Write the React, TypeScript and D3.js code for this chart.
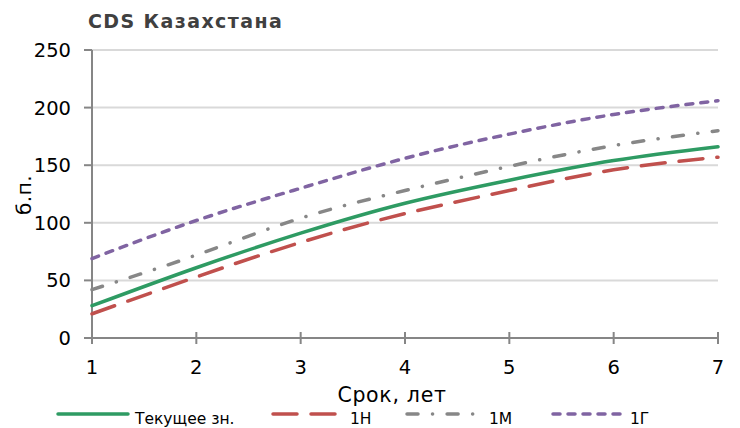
import React from "react";
import * as d3 from "d3";

const terms = [1, 2, 3, 4, 5, 6, 7];
const current = [28, 61, 91, 117, 137, 154, 166];
const h1 = [21, 53, 83, 108, 128, 146, 157];
const m1 = [42, 72, 104, 128, 149, 167, 180];
const y1 = [69, 102, 130, 156, 177, 194, 206];
const yTicks = [0, 50, 100, 150, 200, 250];
const xTicks = [1, 2, 3, 4, 5, 6, 7];

const seriesNames = ["Текущее зн.", "1Н", "1М", "1Г"];
const seriesColors = ["#2e9b63", "#c0504d", "#878787", "#8064a2"];
const seriesDash = ["none", "24,14", "11,14.5,0.1,14.5", "7,8"];
const seriesData = [current, h1, m1, y1];

const FONT = "'DejaVu Sans', Verdana, sans-serif";

export default function App() {
  const W = 740, H = 428;
  const x = d3.scaleLinear().domain([1, 7]).range([92, 718]);
  const y = d3.scaleLinear().domain([0, 250]).range([338, 50]);
  const line = d3
    .line<number>()
    .x((_, i) => x(terms[i]))
    .y((d) => y(d))
    .curve(d3.curveNatural);

  const legendX = [58, 273, 407, 553];
  const legendTextX = [135, 350, 489, 630];

  return (
    <svg width={W} height={H} style={{ position: "absolute", left: 0, top: 0, background: "#fff" }}>
      <text x={88} y={28} fontFamily={FONT} fontWeight="bold" fontSize={19} letterSpacing={1.4} fill="#404040">
        CDS Казахстана
      </text>
      {yTicks.map((t) =>
        t > 0 ? (
          <line key={"g" + t} x1={x(1)} x2={x(7)} y1={y(t)} y2={y(t)} stroke="#d9d9d9" strokeWidth={2} />
        ) : null
      )}
      {yTicks.map((t) => (
        <g key={"yt" + t}>
          <line x1={84} x2={x(1)} y1={y(t)} y2={y(t)} stroke="#868686" strokeWidth={2} />
          <text x={71} y={y(t) + 7} textAnchor="end" fontFamily={FONT} fontSize={19.5} fill="#000">
            {t}
          </text>
        </g>
      ))}
      <line x1={x(1)} x2={x(1)} y1={y(250)} y2={y(0) + 6} stroke="#868686" strokeWidth={2} />
      <line x1={x(1)} x2={x(7)} y1={y(0)} y2={y(0)} stroke="#868686" strokeWidth={2} />
      {xTicks.map((t) => (
        <g key={"xt" + t}>
          <line x1={x(t)} x2={x(t)} y1={y(0) - 6} y2={y(0) + 6} stroke="#868686" strokeWidth={2} />
          <text x={x(t)} y={374} textAnchor="middle" fontFamily={FONT} fontSize={19.5} fill="#000">
            {t}
          </text>
        </g>
      ))}
      <text x={392} y={402} textAnchor="middle" fontFamily={FONT} fontSize={20.5} letterSpacing={0.7} fill="#000">
        Срок, лет
      </text>
      <text
        transform={`translate(31,${195}) rotate(-90)`}
        textAnchor="middle"
        fontFamily={FONT}
        fontSize={20}
        letterSpacing={0.5}
        fill="#000"
      >
        б.п.
      </text>
      {seriesData.map((s, i) => (
        <path
          key={"s" + i}
          d={line(s) || ""}
          fill="none"
          stroke={seriesColors[i]}
          strokeWidth={3.5}
          strokeDasharray={seriesDash[i]}
          strokeLinecap="round"
        />
      ))}
      {seriesNames.map((n, i) => (
        <g key={"l" + i}>
          <line
            x1={legendX[i]}
            x2={legendX[i] + 70}
            y1={414}
            y2={414}
            stroke={seriesColors[i]}
            strokeWidth={3.5}
            strokeDasharray={seriesDash[i]}
            strokeLinecap="round"
          />
          <text x={legendTextX[i]} y={424} fontFamily={FONT} fontSize={15.5} fill="#000">
            {n}
          </text>
        </g>
      ))}
    </svg>
  );
}
